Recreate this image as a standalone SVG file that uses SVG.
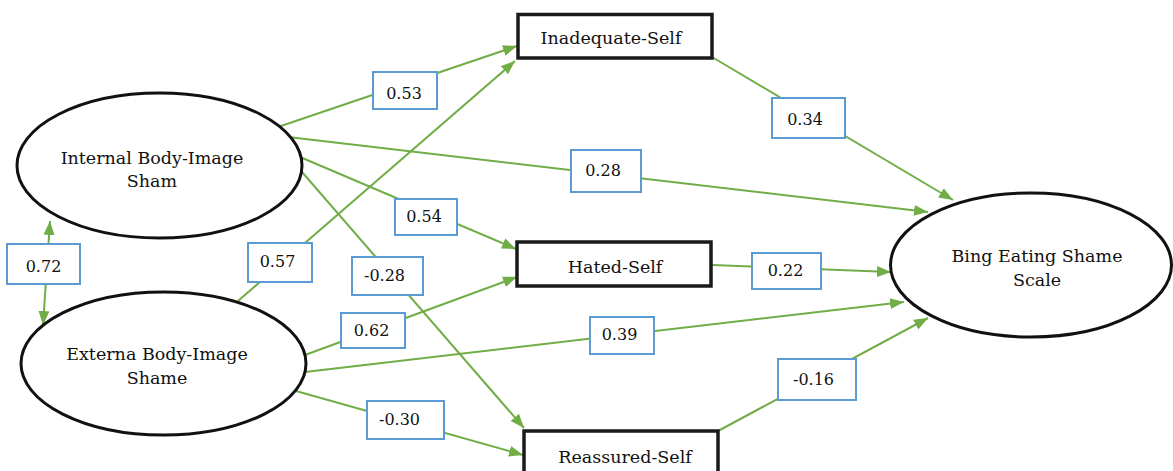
<svg xmlns="http://www.w3.org/2000/svg" width="1173" height="471" viewBox="0 0 1173 471">
<defs>
<marker id="ah" markerUnits="userSpaceOnUse" markerWidth="15" markerHeight="12" refX="14" refY="6" orient="auto-start-reverse">
<path d="M0,0.5 L14,6 L0,11.5 z" fill="#70ad47"/>
</marker>
<style>
.c{stroke:#70ad47;stroke-width:2;fill:none;marker-end:url(#ah)}
.lb{fill:#fff;stroke:#5b9bd5;stroke-width:2}
.n{font-family:"DejaVu Serif","Liberation Serif",serif;font-size:16px;fill:#111;text-anchor:middle}
.t{font-family:"DejaVu Serif","Liberation Serif",serif;font-size:17.5px;fill:#111;text-anchor:middle}
.el{fill:#fff;stroke:#111;stroke-width:3}
.bx{fill:#fff;stroke:#1a1a1a;stroke-width:3.5}
</style>
</defs>
<rect width="1173" height="471" fill="#fff"/>
<g id="connectors">
<line class="c" x1="278" y1="127" x2="517" y2="46"/>
<line class="c" x1="238" y1="301" x2="515" y2="61"/>
<line class="c" x1="288" y1="137" x2="928" y2="212"/>
<line class="c" x1="300" y1="157" x2="516" y2="249"/>
<line class="c" x1="302" y1="172" x2="524" y2="428"/>
<line class="c" x1="305" y1="355" x2="517" y2="277"/>
<line class="c" x1="305" y1="372" x2="904" y2="302"/>
<line class="c" x1="296" y1="391" x2="523" y2="455"/>
<line class="c" x1="712" y1="57" x2="953" y2="200"/>
<line class="c" x1="712" y1="265" x2="891" y2="272"/>
<line class="c" x1="718" y1="431" x2="928" y2="318"/>
<line class="c" style="marker-start:url(#ah)" x1="50" y1="221" x2="43" y2="325"/>
</g>
<g id="labels">
<g id="l053"><rect class="lb" x="373" y="72" width="64" height="37"/><text class="n" x="404" y="99">0.53</text></g>
<g id="l028a"><rect class="lb" x="571" y="150" width="70" height="42"/><text class="n" x="603" y="176">0.28</text></g>
<g id="l072"><rect class="lb" x="7" y="244" width="73" height="40"/><text class="n" x="43.5" y="272">0.72</text></g>
<g id="l057"><rect class="lb" x="248" y="243" width="64" height="39"/><text class="n" x="277.5" y="267">0.57</text></g>
<g id="l054"><rect class="lb" x="395" y="199" width="62" height="36"/><text class="n" x="424" y="222">0.54</text></g>
<g id="lm028"><rect class="lb" x="352" y="257" width="71" height="38"/><text class="n" x="384.5" y="281">-0.28</text></g>
<g id="l062"><rect class="lb" x="341" y="313" width="64" height="35"/><text class="n" x="371.5" y="336">0.62</text></g>
<g id="l039"><rect class="lb" x="590" y="317" width="64" height="37"/><text class="n" x="619.5" y="340">0.39</text></g>
<g id="lm030"><rect class="lb" x="367" y="401" width="77" height="38"/><text class="n" x="399.5" y="425">-0.30</text></g>
<g id="l034"><rect class="lb" x="772" y="98" width="73" height="40"/><text class="n" x="805" y="125">0.34</text></g>
<g id="l022"><rect class="lb" x="752" y="253" width="69" height="36"/><text class="n" x="785.5" y="276">0.22</text></g>
<g id="lm016"><rect class="lb" x="778" y="359" width="78" height="41"/><text class="n" x="813.5" y="385">-0.16</text></g>
</g>
<g id="internal">
<ellipse class="el" cx="159.5" cy="165.5" rx="142.5" ry="72.5"/>
<text class="t" x="152" y="164">Internal Body-Image</text>
<text class="t" x="152" y="187">Sham</text>
</g>
<g id="externa">
<ellipse class="el" cx="163.5" cy="363.5" rx="142.5" ry="71.5"/>
<text class="t" x="157" y="360">Externa Body-Image</text>
<text class="t" x="157" y="384">Shame</text>
</g>
<g id="bing">
<ellipse class="el" cx="1031" cy="265" rx="140.5" ry="72"/>
<text class="t" x="1037" y="262">Bing Eating Shame</text>
<text class="t" x="1037" y="286">Scale</text>
</g>
<g id="inadequate">
<rect class="bx" x="518" y="14.5" width="194" height="43.5"/>
<text class="t" x="611" y="44">Inadequate-Self</text>
</g>
<g id="hated">
<rect class="bx" x="517" y="242" width="194" height="44"/>
<text class="t" x="615" y="273">Hated-Self</text>
</g>
<g id="reassured">
<rect class="bx" x="524" y="431" width="194" height="50"/>
<text class="t" x="625" y="463">Reassured-Self</text>
</g>
</svg>
